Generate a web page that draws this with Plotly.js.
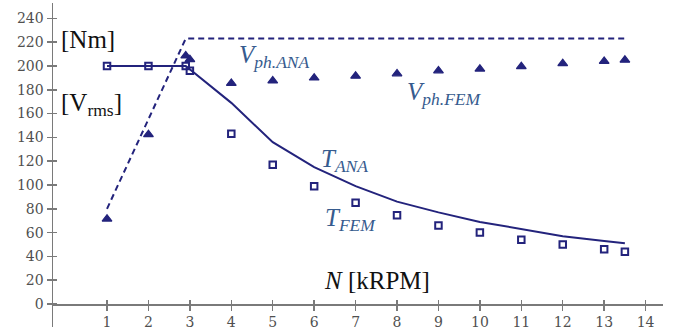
<!DOCTYPE html>
<html>
<head>
<meta charset="utf-8">
<script src="https://cdn.plot.ly/plotly-3.0.1.min.js"></script>
<style>html,body{margin:0;padding:0;background:#fff;}#chart{width:684px;height:327px;}</style>
</head>
<body>
<div id="chart"></div>
<script>
// Speed N [kRPM]
var nTfem = [1, 2, 2.9, 3, 4, 5, 6, 7, 8, 9, 10, 11, 12, 13, 13.5];
var tFem  = [200, 200, 200, 196, 143, 117, 99, 85, 74.5, 66, 60, 54, 50, 46, 44];

var nTana = [1, 2, 2.9, 4, 5, 6, 7, 8, 9, 10, 11, 12, 13, 13.5];
var tAna  = [200, 200, 200, 169, 136, 115, 99, 86, 77, 69, 63, 57, 53, 51];

var nVana = [1, 2.9, 13.5];
var vAna  = [80, 223, 223];

var nVfem = [1, 2, 2.9, 3, 4, 5, 6, 7, 8, 9, 10, 11, 12, 13, 13.5];
var vFem  = [71.5, 142.5, 208.5, 205.5, 185.5, 187.5, 190, 191.5, 193.5, 196, 197.5, 199.5, 202, 204, 205];

var xTicks = [1, 2, 3, 4, 5, 6, 7, 8, 9, 10, 11, 12, 13, 14];
var yTicks = [0, 20, 40, 60, 80, 100, 120, 140, 160, 180, 200, 220, 240];

var navy = '#23237c';
var labelBlue = '#365b8e';
var axisGrey = '#7a7a7a';
var xRange = [-0.304, 14.42];
var yRange = [-19.3, 252.9];
var xPos = (0 - yRange[0]) / (yRange[1] - yRange[0]);

var traces = [
  {x: nVana, y: vAna, mode: 'lines', line: {color: navy, width: 2, dash: '6px,4px'}, hoverinfo: 'skip'},
  {x: nTana, y: tAna, mode: 'lines', line: {color: navy, width: 2}, hoverinfo: 'skip'},
  {x: nTfem, y: tFem, mode: 'markers', marker: {symbol: 'square-open', size: 6.5, color: navy, line: {color: navy, width: 2}}},
  {x: nVfem, y: vFem, mode: 'markers', marker: {symbol: 'triangle-up', size: 8.5, color: navy, line: {color: navy, width: 1.2}}},
  {x: [], y: [], xaxis: 'x2', yaxis: 'y2', mode: 'markers'}
];

var serif = 'Liberation Serif, Times New Roman, serif';
function ann(text, x, y, color) {
  return {text: text, x: x, y: y, xref: 'x', yref: 'y', xanchor: 'left', yanchor: 'middle',
          showarrow: false, font: {family: serif, size: 25, color: color}};
}

var layout = {
  width: 684, height: 327,
  margin: {l: 53, r: 21, t: 3, b: 0},
  paper_bgcolor: '#fff', plot_bgcolor: '#fff',
  showlegend: false,
  xaxis: {range: xRange, anchor: 'free', position: xPos, showline: true, linecolor: axisGrey, linewidth: 1.5,
          ticks: 'outside', ticklen: 5, tickwidth: 1.5, tickcolor: axisGrey, tickvals: xTicks,
          showgrid: false, zeroline: false, tickfont: {family: 'DejaVu Serif', size: 14, color: '#505050'}},
  yaxis: {range: yRange, showline: true, linecolor: axisGrey, linewidth: 1.5,
          ticks: 'outside', ticklen: 5, tickwidth: 1.5, tickcolor: axisGrey, tickvals: yTicks,
          showgrid: false, zeroline: false, tickfont: {family: 'DejaVu Serif', size: 14, color: '#505050'}},
  xaxis2: {range: xRange, overlaying: 'x', anchor: 'free', position: xPos, showline: false,
           ticks: 'inside', ticklen: 4, tickwidth: 1.5, tickcolor: axisGrey, tickvals: xTicks,
           showticklabels: false, showgrid: false, zeroline: false},
  yaxis2: {range: yRange, overlaying: 'y', anchor: 'x2', showline: false,
           ticks: 'inside', ticklen: 4, tickwidth: 1.5, tickcolor: axisGrey, tickvals: yTicks,
           showticklabels: false, showgrid: false, zeroline: false},
  annotations: [
    ann('[Nm]', -0.16, 222, '#111'),
    ann('[V<sub>rms</sub>]', -0.16, 168, '#111'),
    ann('<i>V<sub>ph.ANA</sub></i>', 4.13, 208, labelBlue),
    ann('<i>V<sub>ph.FEM</sub></i>', 8.19, 177, labelBlue),
    ann('<i>T<sub>ANA</sub></i>', 6.11, 121, labelBlue),
    ann('<i>T<sub>FEM</sub></i>', 6.21, 71, labelBlue),
    ann('<i>N</i> [kRPM]', 6.19, 20, '#111')
  ]
};

Plotly.newPlot('chart', traces, layout, {displayModeBar: false, staticPlot: true});
</script>
</body>
</html>
